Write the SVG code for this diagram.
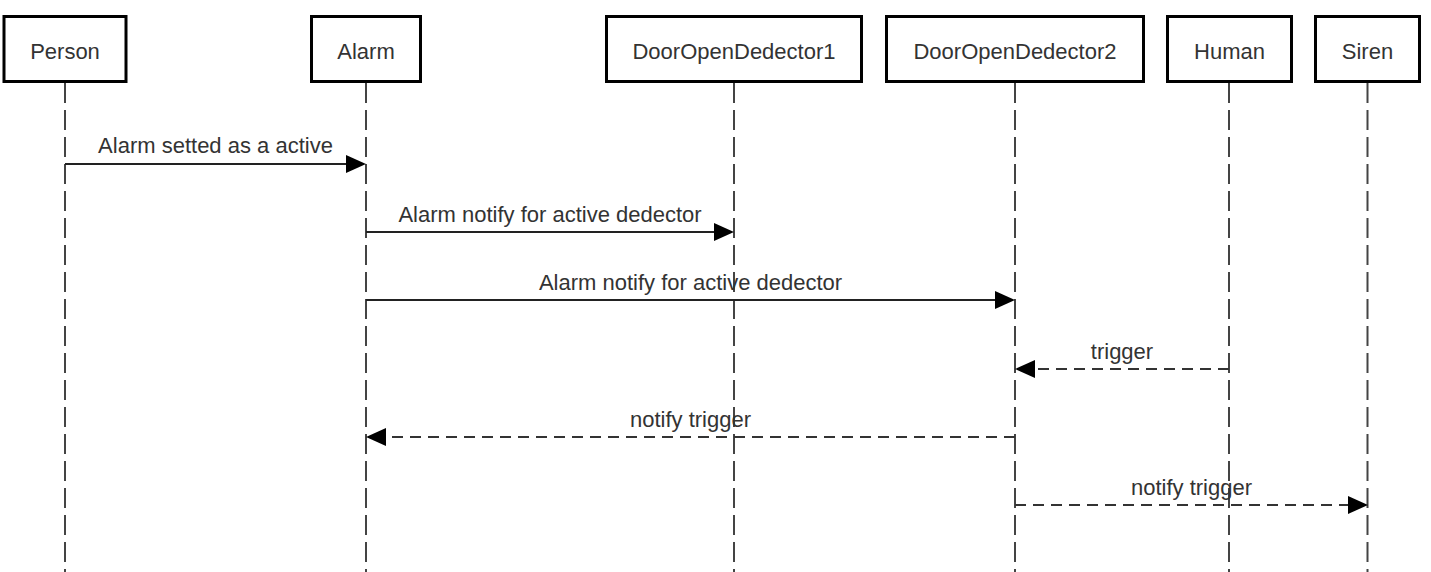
<svg xmlns="http://www.w3.org/2000/svg" width="1431" height="572" viewBox="0 0 1431 572">
<style>
.box{fill:#fff;stroke:#000;stroke-width:3}
.lbl{font-family:"Liberation Sans",Arial,sans-serif;font-size:22px;fill:#333;text-anchor:middle}
.life{stroke:#444;stroke-width:2;stroke-dasharray:20 7;fill:none}
.msg{stroke:#222;stroke-width:2;fill:none}
.dash{stroke:#333;stroke-width:2;stroke-dasharray:11 7;fill:none}
.head{fill:#000}
</style>
<rect width="1431" height="572" fill="#fff"/>
<g id="lifelines">
<line class="life" x1="65" y1="83" x2="65" y2="572"/>
<line class="life" x1="366" y1="83" x2="366" y2="572"/>
<line class="life" x1="734" y1="83" x2="734" y2="572"/>
<line class="life" x1="1015" y1="83" x2="1015" y2="572"/>
<line class="life" x1="1229" y1="83" x2="1229" y2="572"/>
<line class="life" x1="1367.5" y1="83" x2="1367.5" y2="572"/>
</g>
<g id="node-person"><rect class="box" x="4" y="16.5" width="122" height="65"/><text class="lbl" x="65" y="59">Person</text></g>
<g id="node-alarm"><rect class="box" x="311.5" y="16.5" width="109" height="65"/><text class="lbl" x="366" y="59">Alarm</text></g>
<g id="node-dod1"><rect class="box" x="606.5" y="16.5" width="255" height="65"/><text class="lbl" x="734" y="59">DoorOpenDedector1</text></g>
<g id="node-dod2"><rect class="box" x="886.5" y="16.5" width="257" height="65"/><text class="lbl" x="1015" y="59">DoorOpenDedector2</text></g>
<g id="node-human"><rect class="box" x="1167.5" y="16.5" width="124" height="65"/><text class="lbl" x="1229.5" y="59">Human</text></g>
<g id="node-siren"><rect class="box" x="1315.5" y="16.5" width="104" height="65"/><text class="lbl" x="1367.5" y="59">Siren</text></g>
<g id="connectors">
<line class="msg" x1="65" y1="164" x2="347" y2="164"/>
<polygon class="head" points="366,164 346,155 346,173"/>
<text class="lbl" x="215.5" y="153">Alarm setted as a active</text>
<line class="msg" x1="366" y1="232" x2="715" y2="232"/>
<polygon class="head" points="734,232 714,223 714,241"/>
<text class="lbl" x="550" y="222">Alarm notify for active dedector</text>
<line class="msg" x1="366" y1="300" x2="996" y2="300"/>
<polygon class="head" points="1015,300 995,291 995,309"/>
<text class="lbl" x="690.5" y="290">Alarm notify for active dedector</text>
<line class="dash" x1="1229" y1="369" x2="1034" y2="369"/>
<polygon class="head" points="1015,369 1035,360 1035,378"/>
<text class="lbl" x="1122" y="359">trigger</text>
<line class="dash" x1="1015" y1="437" x2="385" y2="437"/>
<polygon class="head" points="366,437 386,428 386,446"/>
<text class="lbl" x="690.5" y="427">notify trigger</text>
<line class="dash" x1="1015" y1="505" x2="1349" y2="505"/>
<polygon class="head" points="1368,505 1348,496 1348,514"/>
<text class="lbl" x="1191.5" y="495">notify trigger</text>
</g>
</svg>
